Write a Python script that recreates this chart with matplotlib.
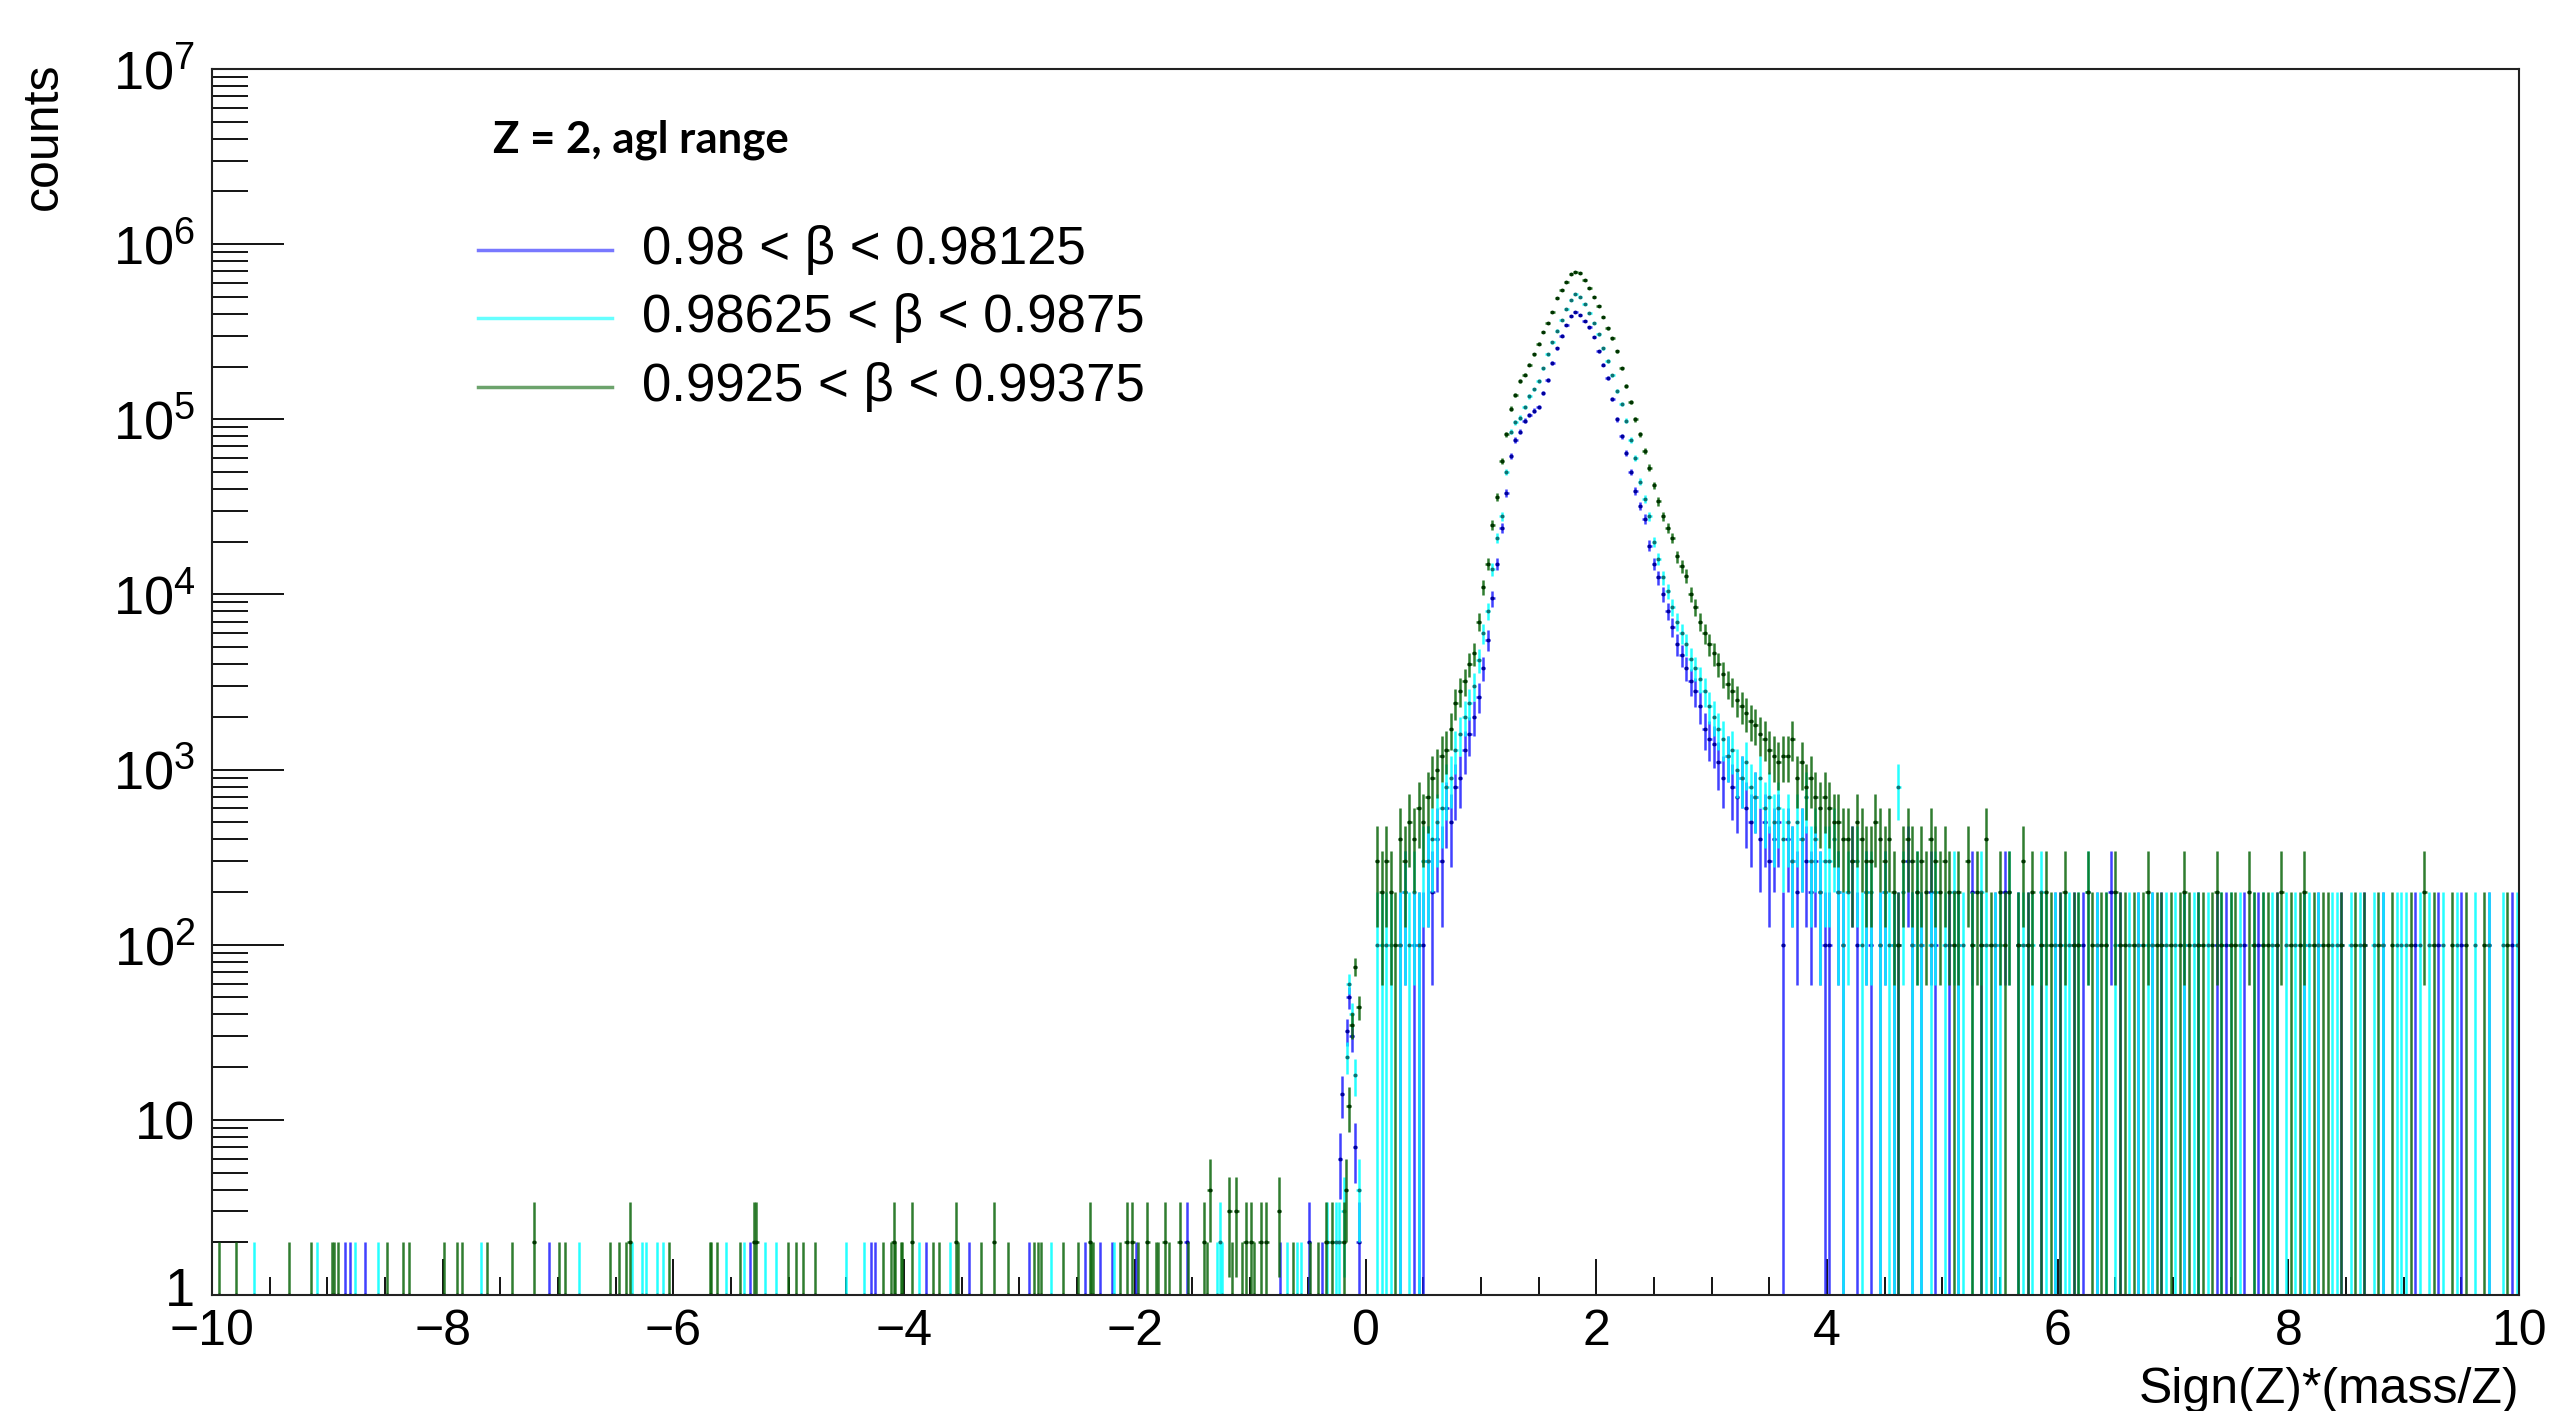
import numpy as np
import matplotlib.pyplot as plt
from matplotlib.transforms import ScaledTranslation

plt.rcParams['font.family'] = ['Liberation Sans', 'DejaVu Sans']
plt.rcParams['mathtext.fontset'] = 'custom'
plt.rcParams['mathtext.rm'] = 'Liberation Sans'
plt.rcParams['mathtext.it'] = 'Liberation Sans:italic'

# --- data ----------------------------------------------------------------
BIN = 0.04
labels = ['0.98 < β < 0.98125', '0.98625 < β < 0.9875', '0.9925 < β < 0.99375']
colors = ['#1f1fff', '#00ffff', '#0b660b']

# x < 0: plain counts (single entries)
blue_neg_x = [-8.85, -8.80, -8.67, -7.08, -5.34, -4.29, -4.25, -3.81, -3.44, -2.92,
              -2.43, -2.30, -2.20, -1.99, -1.55, -0.74, -0.49, -0.38,
              -0.22, -0.205, -0.16, -0.145, -0.12, -0.09, -0.06]
blue_neg_n = [1, 1, 1, 1, 1, 1, 1, 1, 1, 1,
              1, 1, 1, 1, 2, 1, 2, 1,
              6, 14, 32, 50, 30, 7, 2]

cyan_neg_x = [-9.64, -9.09, -8.76, -8.56, -7.67, -6.82, -6.36, -6.27, -6.24, -6.14,
              -6.09, -5.54, -5.39, -5.21, -5.11, -4.50, -4.35, -3.87, -3.60, -2.73,
              -2.18, -1.29, -1.26, -1.24, -0.68, -0.59, -0.56, -0.33, -0.26, -0.23,
              -0.19, -0.16, -0.145, -0.12, -0.09, -0.06]
cyan_neg_n = [1, 1, 1, 1, 1, 1, 1, 1, 1, 1,
              1, 1, 1, 1, 1, 1, 1, 1, 1, 1,
              1, 1, 2, 1, 1, 1, 1, 2, 2, 2,
              3, 23, 60, 40, 18, 4]

green_neg_x = [-9.94, -9.79, -9.33, -9.14, -8.96, -8.94, -8.91, -8.48, -8.34, -8.29,
               -7.99, -7.88, -7.83, -7.62, -7.40, -7.21, -6.99, -6.94, -6.55, -6.47,
               -6.41, -6.38, -6.04, -5.68, -5.67, -5.62, -5.42, -5.30, -5.28, -5.01,
               -4.94, -4.88, -4.77, -4.18, -4.11, -4.09, -4.08, -4.03, -4.02, -3.93,
               -3.75, -3.70, -3.55, -3.53, -3.33, -3.22, -3.10, -2.87, -2.84, -2.81,
               -2.62, -2.49, -2.39, -2.38, -2.36, -2.13, -2.07, -2.02, -1.97, -1.89,
               -1.82, -1.80, -1.74, -1.70, -1.61, -1.54, -1.40, -1.37, -1.35, -1.18,
               -1.16, -1.12, -1.07, -1.04, -0.99, -0.97, -0.91, -0.86, -0.75, -0.63,
               -0.48, -0.41, -0.34, -0.29, -0.19, -0.17, -0.145, -0.12, -0.09, -0.06]
green_neg_n = [1, 1, 1, 1, 1, 1, 1, 1, 1, 1,
               1, 1, 1, 1, 1, 2, 1, 1, 1, 1,
               1, 2, 1, 1, 1, 1, 1, 2, 2, 1,
               1, 1, 1, 1, 1, 2, 1, 1, 1, 2,
               1, 1, 2, 1, 1, 2, 1, 1, 1, 1,
               1, 1, 2, 1, 1, 1, 2, 2, 1, 2,
               1, 1, 2, 1, 2, 1, 2, 1, 4, 3,
               1, 3, 1, 2, 2, 1, 2, 2, 3, 1,
               1, 1, 2, 2, 2, 4, 12, 35, 75, 44]

# 0 < x < 4: weighted counts, bins of 0.04 starting at 0
blue_main = [
    0, 0, 0, 0, 0, 0, 0, 100, 200, 0,
    100, 100, 100, 300, 200, 400, 300, 600, 500, 800,
    900, 1300, 1600, 2000, 2600, 3800, 5500, 9500, 15000, 24000,
    38000, 62000, 76000, 85000, 98000, 106000, 112000, 118000, 142000, 168000,
    210000, 255000, 300000, 345000, 390000, 410000, 395000, 365000, 335000, 295000,
    245000, 205000, 172000, 130000, 100000, 80000, 64000, 50000, 39000, 32000,
    27000, 19000, 15000, 12500, 10000, 8000, 6500, 5200, 4500, 3800,
    3200, 2800, 2300, 1700, 1500, 1400, 1100, 900, 1200, 800,
    700, 900, 600, 500, 700, 400, 500, 300, 400, 500,
    100, 400, 300, 200, 400, 300, 200, 300, 200, 100]

cyan_main = [
    0, 0, 100, 100, 100, 100, 0, 100, 200, 100,
    200, 100, 300, 300, 400, 500, 600, 800, 900, 1300,
    1600, 2000, 2400, 3000, 4200, 6000, 8000, 14000, 21000, 28000,
    50000, 85000, 96000, 102000, 118000, 135000, 148000, 165000, 195000, 235000,
    275000, 320000, 370000, 425000, 480000, 520000, 500000, 455000, 405000, 355000,
    305000, 255000, 215000, 178000, 145000, 122000, 98000, 76000, 60000, 44000,
    35000, 28000, 20000, 16000, 12500, 10500, 8500, 7000, 6000, 5200,
    4300, 3800, 3300, 2800, 2300, 2000, 1700, 1500, 1200, 1300,
    1000, 900, 1100, 800, 700, 900, 600, 700, 500, 600,
    400, 500, 300, 500, 400, 700, 300, 400, 200, 300]

green_main = [
    0, 0, 300, 200, 300, 200, 100, 400, 300, 500,
    400, 600, 500, 700, 900, 1000, 1200, 1300, 1700, 2400,
    2800, 3200, 4000, 4600, 7000, 11000, 15000, 25000, 36000, 58000,
    82000, 115000, 138000, 165000, 180000, 205000, 235000, 270000, 315000, 355000,
    410000, 490000, 550000, 610000, 675000, 695000, 680000, 625000, 565000, 500000,
    445000, 385000, 330000, 290000, 245000, 195000, 155000, 125000, 100000, 82000,
    66000, 53000, 42000, 34000, 28000, 24000, 21000, 16500, 14500, 12800,
    10000, 8500, 7000, 6000, 5200, 4600, 4000, 3500, 3100, 2800,
    2500, 2300, 2100, 1900, 1800, 1600, 1500, 1300, 1200, 1100,
    1200, 1200, 1500, 900, 1100, 800, 900, 700, 600, 700]

# 4 < x < 10: entries in units of 100, one digit per bin
blue_tail = ("1021031021012011031010210" "0101002010010200101001001"
             "1001010010020100010010100" "0010010001010001001000100"
             "0001001000010000100010000" "0010000100001000001000010")
cyan_tail = ("3421203122012118201210120" "1021101021011020110102101"
             "0110102010101001010110010" "1010110100101010010101001"
             "0101101001100101001010011" "1001010010010001001001001")
green_tail = ("6554435433543421343232432" "3212031214102120131201210"
              "1201102101102110101201101" "0121011012101100210110120"
              "1012010110010010100100100" "0100201000100100010000100")

main_x = 0.02 + BIN * np.arange(len(green_main))
tail_x = 4.02 + BIN * np.arange(len(green_tail))


def build(neg_x, neg_n, main, tail):
    x = np.concatenate([neg_x, main_x, tail_x])
    n = np.concatenate([neg_n, main, [int(c) * 100 for c in tail]]).astype(float)
    w = np.concatenate([np.ones(len(neg_x)), np.full(len(main) + len(tail), 100.0)])
    keep = n > 0
    x, n, w = x[keep], n[keep], w[keep]
    err = np.sqrt(n * w)
    lo = np.minimum(err, n - 1e-3)
    return x, n, np.vstack([lo, err])


series = [build(blue_neg_x, blue_neg_n, blue_main, blue_tail),
          build(cyan_neg_x, cyan_neg_n, cyan_main, cyan_tail),
          build(green_neg_x, green_neg_n, green_main, green_tail)]
marker_cols = ['#00009a', '#107070', '#003300']

# --- figure ----------------------------------------------------------------
fig = plt.figure(figsize=(25.6, 14.11), dpi=100)
ax = fig.add_axes([212 / 2560, 1 - 1295 / 1411, 2307 / 2560, 1226 / 1411])

for (x, n, yerr), col, mcol in zip(series, colors, marker_cols):
    ax.errorbar(x, n, xerr=BIN / 2, yerr=yerr, fmt='none', ecolor=col,
                elinewidth=1.8, capsize=0, alpha=0.85)
    ax.plot(x, n, ls='none', marker='o', ms=2.8, mew=0, color=mcol)

ax.set_yscale('log')
ax.set_xlim(-10, 10)
ax.set_ylim(1, 1e7)

ax.set_xticks(np.arange(-10, 11, 2))
ax.set_xticks(np.arange(-10, 10.01, 0.5), minor=True)
ax.set_yticks([1, 10, 1e2, 1e3, 1e4, 1e5, 1e6, 1e7],
              labels=['1', '10', r'$10^{2}$', r'$10^{3}$', r'$10^{4}$',
                      r'$10^{5}$', r'$10^{6}$', r'$10^{7}$'])
ax.set_yticks([m * 10.0 ** k for k in range(7) for m in range(2, 10)], minor=True)
ax.yaxis.set_minor_formatter(plt.NullFormatter())

ax.tick_params(axis='x', which='major', direction='in', length=26, width=1.3,
               labelsize=36, pad=10)
ax.tick_params(axis='x', which='minor', direction='in', length=13, width=1.3)
ax.tick_params(axis='y', which='major', direction='in', length=52, width=1.3,
               labelsize=39, pad=12)
ax.tick_params(axis='y', which='minor', direction='in', length=26, width=1.3)
for s in ax.spines.values():
    s.set_linewidth(1.5)
    s.set_color('#222222')

# lift the "1" label a little so it clears the "-10" below it
lab1 = ax.get_yticklabels()[0]
lab1.set_transform(lab1.get_transform() + ScaledTranslation(0, 8 / 100, fig.dpi_scale_trans))

fig.text(44 / 2560, 1 - 62 / 1411, 'counts', rotation=90, ha='center', va='top',
         fontsize=36)
fig.text(2519 / 2560, 1 - 1390 / 1411, 'Sign(Z)*(mass/Z)', ha='right', va='center',
         fontsize=36)

# legend in ROOT style
ax.text(0.1218, 0.942, 'Z = 2, agl range', transform=ax.transAxes, fontsize=31.5,
        fontweight='bold', family=['Lato', 'DejaVu Sans'], va='center')
for i, (lab, col) in enumerate(zip(labels, colors)):
    yy = 0.8524 - i * 0.0559
    ax.plot([0.1153, 0.1734], [yy, yy], transform=ax.transAxes, color=col,
            lw=2.5, alpha=0.6)
    ax.text(0.1864, yy, lab, transform=ax.transAxes, fontsize=38, va='center')

fig.savefig('out.png', dpi=100)
